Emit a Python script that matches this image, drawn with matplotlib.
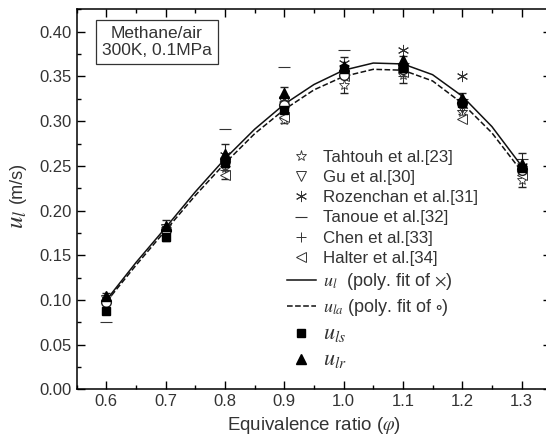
import matplotlib
matplotlib.use("Agg")
import matplotlib.pyplot as plt
from matplotlib.ticker import MultipleLocator

plt.rcParams['font.family'] = ['Liberation Sans', 'DejaVu Sans']
plt.rcParams['mathtext.fontset'] = 'stix'

# equivalence ratio grid for the measured points
phi = [0.6, 0.7, 0.8, 0.9, 1.0, 1.1, 1.2, 1.3]
u_ls = [0.088, 0.170, 0.253, 0.312, 0.358, 0.360, 0.320, 0.248]
u_lr = [0.104, 0.183, 0.263, 0.332, 0.362, 0.368, 0.326, 0.252]
u_la_pts = [0.098, 0.178, 0.255, 0.318, 0.352, 0.358, 0.320, 0.245]
u_la_err = [0.010, 0.012, 0.020, 0.020, 0.020, 0.015, 0.012, 0.019]

# literature data
phi_tah = [0.8, 0.9, 1.0, 1.1, 1.2, 1.3]
tahtouh = [0.248, 0.301, 0.340, 0.352, 0.310, 0.234]
phi_gu = [0.6, 0.7, 0.8, 0.9, 1.0, 1.1, 1.2, 1.3]
gu = [0.100, 0.180, 0.250, 0.322, 0.352, 0.356, 0.315, 0.244]
phi_roz = [0.8, 0.9, 1.0, 1.1, 1.2, 1.3]
rozenchan = [0.262, 0.325, 0.365, 0.380, 0.350, 0.250]
phi_tan = [0.6, 0.8, 0.9, 1.0, 1.1, 1.2, 1.3]
tanoue = [0.075, 0.291, 0.361, 0.380, 0.365, 0.325, 0.258]
phi_chen = [0.7, 0.8, 0.9, 1.0, 1.1, 1.2]
chen = [0.182, 0.245, 0.310, 0.355, 0.350, 0.312]
phi_hal = [0.8, 0.9, 1.0, 1.1, 1.2, 1.3]
halter = [0.240, 0.305, 0.350, 0.355, 0.303, 0.240]

# polynomial fit curves
phi_fit = [0.6, 0.65, 0.7, 0.75, 0.8, 0.85, 0.9, 0.95, 1.0, 1.05, 1.1, 1.15, 1.2, 1.25, 1.3]
ul_fit = [0.100, 0.142, 0.181, 0.221, 0.258, 0.291, 0.319, 0.341, 0.357, 0.365, 0.364, 0.352, 0.328, 0.294, 0.250]
ula_fit = [0.098, 0.139, 0.178, 0.217, 0.253, 0.286, 0.313, 0.335, 0.350, 0.358, 0.357, 0.345, 0.320, 0.287, 0.244]

fig = plt.figure(figsize=(5.46, 4.43), dpi=100)
ax = fig.add_axes([0.1405, 0.1208, 0.869, 0.858])

ax.errorbar(phi, u_la_pts, yerr=u_la_err, fmt='o', ms=7, mfc='white', mec='#222',
            ecolor='#222', elinewidth=0.8, capsize=3, zorder=2)
ax.plot(phi_tah, tahtouh, ls='none', marker='*', ms=8, mfc='white', mec='#333', mew=0.6, label='Tahtouh et al.[23]')
ax.plot(phi_gu, gu, ls='none', marker='v', ms=7, mfc='white', mec='#333', mew=0.7, label='Gu et al.[30]')
ax.plot(phi_roz, rozenchan, ls='none', marker=(6, 2, 0), ms=8, mec='#333', mew=0.7, label='Rozenchan et al.[31]')
ax.plot(phi_tan, tanoue, ls='none', marker='_', ms=8, mec='#333', mew=0.8, label='Tanoue et al.[32]')
ax.plot(phi_chen, chen, ls='none', marker='+', ms=7, mec='#333', mew=0.7, label='Chen et al.[33]')
ax.plot(phi_hal, halter, ls='none', marker='<', ms=7, mfc='white', mec='#333', mew=0.7, label='Halter et al.[34]')
ax.plot(phi_fit, ul_fit, '-', color='#111', lw=1.1, label=r'$u_l$  (poly. fit of $\times$)')
ax.plot(phi_fit, ula_fit, '--', color='#111', lw=1.1, label=r'$u_{la}$ (poly. fit of $\circ$)')
ax.plot(phi, u_ls, ls='none', marker='s', ms=6, color='black', label=r'$u_{ls}$', zorder=4)
ax.plot(phi, u_lr, ls='none', marker='^', ms=7, color='black', label=r'$u_{lr}$', zorder=4)

ax.set_xlim(0.55, 1.35)
ax.set_ylim(0, 0.425)
ax.xaxis.set_minor_locator(MultipleLocator(0.05))
ax.yaxis.set_minor_locator(MultipleLocator(0.025))
ax.set_xticks([0.6, 0.7, 0.8, 0.9, 1.0, 1.1, 1.2, 1.3])
ax.set_xticklabels(['0.6', '0.7', '0.8', '0.9', '1.0', '1.1', '1.2', '1.3'])
ax.set_yticks([0.0, 0.05, 0.1, 0.15, 0.2, 0.25, 0.3, 0.35, 0.4])
ax.set_yticklabels(['0.00', '0.05', '0.10', '0.15', '0.20', '0.25', '0.30', '0.35', '0.40'])
ax.tick_params(which='both', direction='in', top=True, right=True, labelsize=12, labelcolor='#333')
ax.tick_params(which='major', length=6, width=1)
ax.tick_params(which='minor', length=3, width=1)
for s in ax.spines.values():
    s.set_linewidth(1.1)

ax.set_xlabel(r'Equivalence ratio ($\varphi$)', fontsize=13.5, color='#333', labelpad=4)

# y label in two parts so the symbol is bigger than the unit
fig.text(17 / 546, 1 - 219 / 443, r'$u_l$', rotation=90, fontsize=18, color='#333',
         ha='center', va='center')
fig.text(17 / 546, 1 - 182 / 443, '(m/s)', rotation=90, fontsize=13, color='#333',
         ha='center', va='center')

ax.text(0.169, 0.955, 'Methane/air\n300K, 0.1MPa', transform=ax.transAxes, fontsize=12.5,
        ha='center', va='top', multialignment='center', color='#333', linespacing=1.15,
        bbox=dict(boxstyle='square,pad=0.35', fc='white', ec='#333', lw=0.9))

leg = ax.legend(loc='upper left', bbox_to_anchor=(0.51, 0.68), bbox_transform=fig.transFigure,
                frameon=False, fontsize=12.2, handlelength=1.7, handletextpad=0.45,
                labelspacing=0.3, borderpad=0, labelcolor='#333')
texts = leg.get_texts()
texts[6].set_fontsize(13)
texts[7].set_fontsize(13)
texts[8].set_fontsize(16)
texts[9].set_fontsize(16)

fig.savefig('out.png', dpi=100)
